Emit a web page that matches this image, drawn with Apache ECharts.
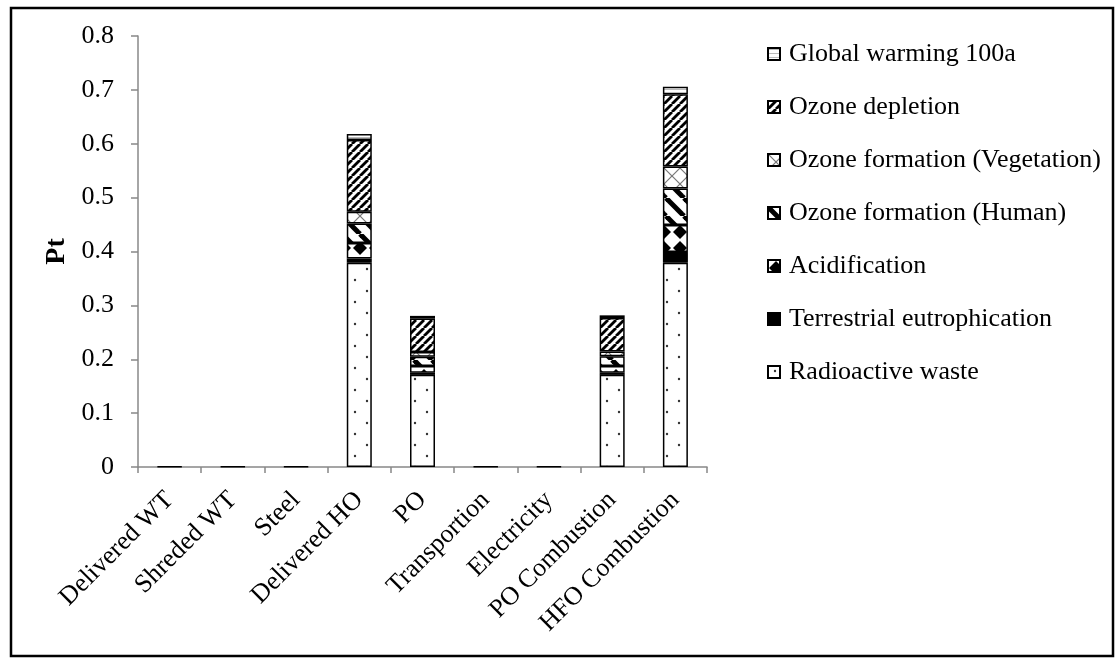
<!DOCTYPE html>
<html>
<head>
<meta charset="utf-8">
<script src="https://cdn.jsdelivr.net/npm/echarts@6/dist/echarts.min.js"></script>
<style>
html,body{margin:0;padding:0;background:#fff;}
#chart{width:1117px;height:659px;}
</style>
</head>
<body>
<div id="chart"></div>
<script>
// ---- data ----
const categories = ['Delivered WT','Shreded WT','Steel','Delivered HO','PO','Transportion','Electricity','PO Combustion','HFO Combustion'];
const radioactiveWaste   = [0.001,0.001,0.001,0.379,0.171,0.001,0.001,0.171,0.379];
const terrestrialEutro   = [null,null,null,0.008,0.004,null,null,0.004,0.020];
const acidification      = [null,null,null,0.029,0.0125,null,null,0.0125,0.050];
const ozoneFormHuman     = [null,null,null,0.036,0.017,null,null,0.018,0.068];
const ozoneFormVeg       = [null,null,null,0.022,0.009,null,null,0.009,0.041];
const ozoneDepletion     = [null,null,null,0.133,0.062,null,null,0.062,0.134];
const globalWarming100a  = [null,null,null,0.011,0.005,null,null,0.005,0.014];
const yTicks = [0,0.1,0.2,0.3,0.4,0.5,0.6,0.7,0.8];

// ---- patterns ----
function tile(w,h,draw){
  const c=document.createElement('canvas');c.width=w;c.height=h;
  const g=c.getContext('2d');g.fillStyle='#fff';g.fillRect(0,0,w,h);draw(g,w,h);
  return {image:c,repeat:'repeat'};
}
const patDots = tile(24,22,(g)=>{g.fillStyle='#333';g.beginPath();g.arc(7,5,1.2,0,7);g.fill();g.beginPath();g.arc(19,16,1.2,0,7);g.fill();});
const patSolid = '#000';
const patDiamond = tile(16,16,(g)=>{g.fillStyle='#000';g.beginPath();g.moveTo(8,1);g.lineTo(15,8);g.lineTo(8,15);g.lineTo(1,8);g.closePath();g.fill();});
const patWideDown = tile(18,18,(g)=>{g.strokeStyle='#000';g.lineWidth=5;
  for(let k=-18;k<=36;k+=18){g.beginPath();g.moveTo(k,0);g.lineTo(k+18,18);g.stroke();}});
const patCross = tile(16,16,(g)=>{g.strokeStyle='#777';g.lineWidth=1.2;
  g.beginPath();g.moveTo(0,0);g.lineTo(16,16);g.stroke();g.beginPath();g.moveTo(16,0);g.lineTo(0,16);g.stroke();});
const patDenseUp = tile(8,8,(g)=>{g.strokeStyle='#000';g.lineWidth=2.8;
  for(let k=-8;k<=16;k+=8){g.beginPath();g.moveTo(k,8);g.lineTo(k+8,0);g.stroke();}});
const patHoriz = tile(4,4,(g)=>{g.fillStyle='#bbb';g.fillRect(0,1,4,1);});

const FONT='Liberation Serif';
function mk(name,data,color){
  return {name:name,type:'bar',stack:'total',data:data,barWidth:25,
    itemStyle:{color:color,borderColor:'#000',borderWidth:1.5},
    emphasis:{disabled:true}};
}
const series=[
  mk('Radioactive waste',radioactiveWaste,patDots),
  mk('Terrestrial eutrophication',terrestrialEutro,patSolid),
  mk('Acidification',acidification,patDiamond),
  mk('Ozone formation (Human)',ozoneFormHuman,patWideDown),
  mk('Ozone formation (Vegetation)',ozoneFormVeg,patCross),
  mk('Ozone depletion',ozoneDepletion,patDenseUp),
  mk('Global warming 100a',globalWarming100a,patHoriz)
];

const chart=echarts.init(document.getElementById('chart'),null,{renderer:'canvas'});
chart.setOption({
  animation:false,
  backgroundColor:'#fff',
  textStyle:{fontFamily:FONT},
  grid:{left:138,right:410,top:36,bottom:192,containLabel:false},
  legend:{
    orient:'vertical',left:767,top:41,padding:0,itemWidth:12,itemHeight:12,itemGap:27,
    icon:'rect',
    data:series.map(s=>s.name).reverse(),
    textStyle:{fontFamily:FONT,fontSize:26,lineHeight:26,color:'#000',padding:[0,0,0,4]},
    selectedMode:false
  },
  xAxis:{
    type:'category',data:categories,
    axisLine:{lineStyle:{color:'#888',width:1.5}},
    axisTick:{show:true,length:6,alignWithLabel:false,lineStyle:{color:'#888',width:1.5}},
    axisLabel:{rotate:45,fontSize:26,color:'#000',fontFamily:FONT,margin:29,interval:0}
  },
  yAxis:{
    type:'value',min:0,max:0.8,interval:0.1,
    name:'Pt',nameLocation:'middle',nameGap:66,nameRotate:90,
    nameTextStyle:{fontSize:28,fontWeight:'bold',color:'#000',fontFamily:FONT},
    axisLine:{show:true,lineStyle:{color:'#888',width:1.5}},
    axisTick:{show:true,length:7,lineStyle:{color:'#888',width:1.5}},
    splitLine:{show:false},
    axisLabel:{fontSize:26,color:'#000',fontFamily:FONT,margin:24,
      formatter:(v)=>{const t=yTicks.find(x=>Math.abs(x-v)<1e-9);return String(t!==undefined?t:v);}}
  },
  series:series,
  graphic:[{type:'rect',shape:{x:11,y:8,width:1102,height:648},style:{fill:'none',stroke:'#000',lineWidth:2.5},silent:true,z:100}]
});
</script>
</body>
</html>
